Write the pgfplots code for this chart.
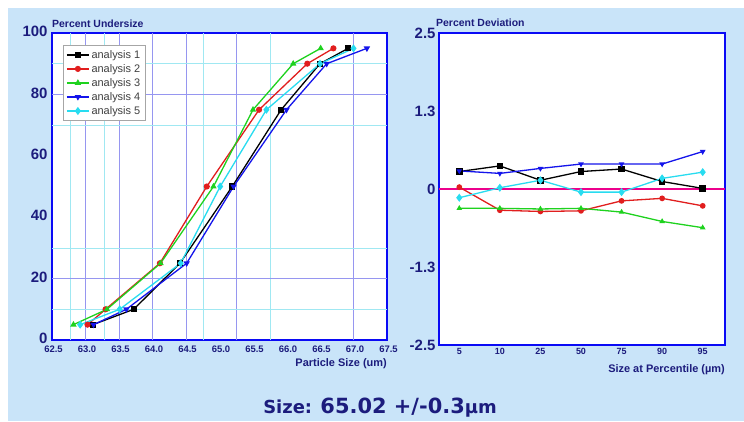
\documentclass[border=0pt]{standalone}
\usepackage{pgfplots}
\pgfplotsset{compat=1.18}
\usepackage{fontspec}
\setmainfont{Liberation Sans}
\newfontfamily\dejavu{DejaVu Sans}

\definecolor{bgblue}{RGB}{201,228,249}
\definecolor{navy}{RGB}{28,28,125}
\definecolor{boxblue}{RGB}{10,10,245}
\definecolor{gridblue}{RGB}{150,150,240}
\definecolor{gridcyan}{RGB}{160,232,242}
\definecolor{sred}{RGB}{225,30,30}
\definecolor{sgreen}{RGB}{30,210,30}
\definecolor{sblue}{RGB}{20,20,235}
\definecolor{scyan}{RGB}{40,220,240}

\pgfplotsset{
  panel/.style={
    scale only axis, anchor=south west,
    axis line style={boxblue, line width=2.4bp},
    axis background/.style={fill=white},
    major tick length=0pt,
    /pgf/number format/assume math mode=true,
    ticklabel style={text=navy, font=\bfseries},
    clip=false,
  },
}

\begin{document}
\begin{tikzpicture}[x=1bp,y=1bp]
\fill[white] (0,0) rectangle (744,421);
\fill[bgblue] (8,0) rectangle (744,413);

% left panel: cumulative curves
\begin{axis}[panel,
  at={(52bp,81bp)}, width=335bp, height=307bp,
  xmin=62.5, xmax=67.5, ymin=0, ymax=100,
  xtick={62.5,63,...,67.5}, ytick={0,20,...,100},
  xticklabel style={font=\bfseries\fontsize{9.5}{10}\selectfont, yshift=-2.5bp, xshift=1.5bp,
    /pgf/number format/.cd, fixed, fixed zerofill, precision=1},
  yticklabel style={font=\bfseries\fontsize{15}{15}\selectfont, yshift=1.5bp, xshift=-1bp},
  legend style={at={(0.033,0.961)}, anchor=north west, draw=gray!70,
    fill=white, font=\fontsize{11}{12}\selectfont, text=black!75,
    row sep=0.6bp, inner sep=3bp},
  legend image code/.code={\draw[mark repeat=2, mark phase=2]
    plot coordinates {(0bp,0bp) (11bp,0bp) (22bp,0bp)};},
  legend cell align=left,
  every axis plot/.append style={line width=1.3bp, mark size=2.4bp},
]
\pgfplotsinvokeforeach{62.77,63.28,64.75,65.75}{
  \draw[gridcyan] (axis cs:#1,0) -- (axis cs:#1,100);}
\pgfplotsinvokeforeach{63,63.5,64,64.5,65.25,67}{
  \draw[gridblue] (axis cs:#1,0) -- (axis cs:#1,100);}
\pgfplotsinvokeforeach{10,30,70,90}{
  \draw[gridcyan] (axis cs:62.5,#1) -- (axis cs:67.5,#1);}
\pgfplotsinvokeforeach{20,80}{
  \draw[gridblue] (axis cs:62.5,#1) -- (axis cs:67.5,#1);}

\addplot[black, mark=square*] coordinates {
  (63.11,5) (63.72,10) (64.41,25) (65.19,50) (65.92,75) (66.50,90) (66.92,95)};
\addplot[sred, mark=*] coordinates {
  (63.03,5) (63.30,10) (64.11,25) (64.81,50) (65.59,75) (66.31,90) (66.70,95)};
\addplot[sgreen, mark=triangle*] coordinates {
  (62.82,5) (63.32,10) (64.12,25) (64.91,50) (65.50,75) (66.10,90) (66.51,95)};
\addplot[sblue, mark=triangle*, mark options={rotate=180}] coordinates {
  (63.12,5) (63.61,10) (64.51,25) (65.21,50) (66.00,75) (66.60,90) (67.20,95)};
\addplot[scyan, mark=diamond*, mark size=3bp] coordinates {
  (62.92,5) (63.51,10) (64.42,25) (65.01,50) (65.70,75) (66.50,90) (67.00,95)};
\legend{analysis 1, analysis 2, analysis 3, analysis 4, analysis 5}
\end{axis}

% right panel: deviations
\begin{axis}[panel,
  at={(439bp,76bp)}, width=286bp, height=312bp,
  xmin=-0.5, xmax=6.55, ymin=-2.5, ymax=2.5,
  xtick={0,...,6}, xticklabels={5,10,25,50,75,90,95},
  xticklabel style={font=\bfseries\fontsize{9}{10}\selectfont},
  ytick={-2.5,-1.25,0,1.25,2.5}, yticklabels={-2.5,-1.3,0,1.3,2.5},
  yticklabel style={font=\bfseries\fontsize{15}{15}\selectfont},
  every axis plot/.append style={line width=1.3bp, mark size=2.2bp},
]
\draw[magenta, line width=1.2bp] (axis cs:-0.5,0) -- (axis cs:6.55,0);
\addplot[black, mark=square*, mark size=2.6bp] coordinates {
  (0,0.28) (1,0.37) (2,0.14) (3,0.28) (4,0.32) (5,0.12) (6,0.01)};
\addplot[sred, mark=*] coordinates {
  (0,0.03) (1,-0.34) (2,-0.36) (3,-0.35) (4,-0.19) (5,-0.15) (6,-0.27)};
\addplot[sgreen, mark=triangle*, mark size=2bp] coordinates {
  (0,-0.31) (1,-0.31) (2,-0.32) (3,-0.31) (4,-0.37) (5,-0.52) (6,-0.62)};
\addplot[sblue, mark=triangle*, mark size=2bp, mark options={rotate=180}] coordinates {
  (0,0.29) (1,0.25) (2,0.33) (3,0.40) (4,0.40) (5,0.40) (6,0.60)};
\addplot[scyan, mark=diamond*, mark size=3bp] coordinates {
  (0,-0.14) (1,0.02) (2,0.14) (3,-0.05) (4,-0.05) (5,0.17) (6,0.27)};
\end{axis}

% axis titles and result line
\node[anchor=base west, text=navy, font=\bfseries\fontsize{10.5}{12}\selectfont, inner sep=0]
  at (52,393) {Percent Undersize};
\node[anchor=base east, text=navy, font=\bfseries\fontsize{11}{12}\selectfont, inner sep=0]
  at (387,55) {Particle Size (um)};
\node[anchor=base west, text=navy, font=\bfseries\fontsize{10.5}{12}\selectfont, inner sep=0]
  at (436,394) {Percent Deviation};
\node[anchor=base east, text=navy, font=\bfseries\fontsize{11}{12}\selectfont, inner sep=0]
  at (725,49) {Size at Percentile (\textmu m)};
\node[anchor=base, text=navy, inner sep=0, font=\dejavu\bfseries]
  at (380,8) {\fontsize{18}{20}\selectfont Size: \fontsize{21}{24}\selectfont 65.02 +/-0.3\fontsize{18}{20}\selectfont µm};
\end{tikzpicture}
\end{document}
